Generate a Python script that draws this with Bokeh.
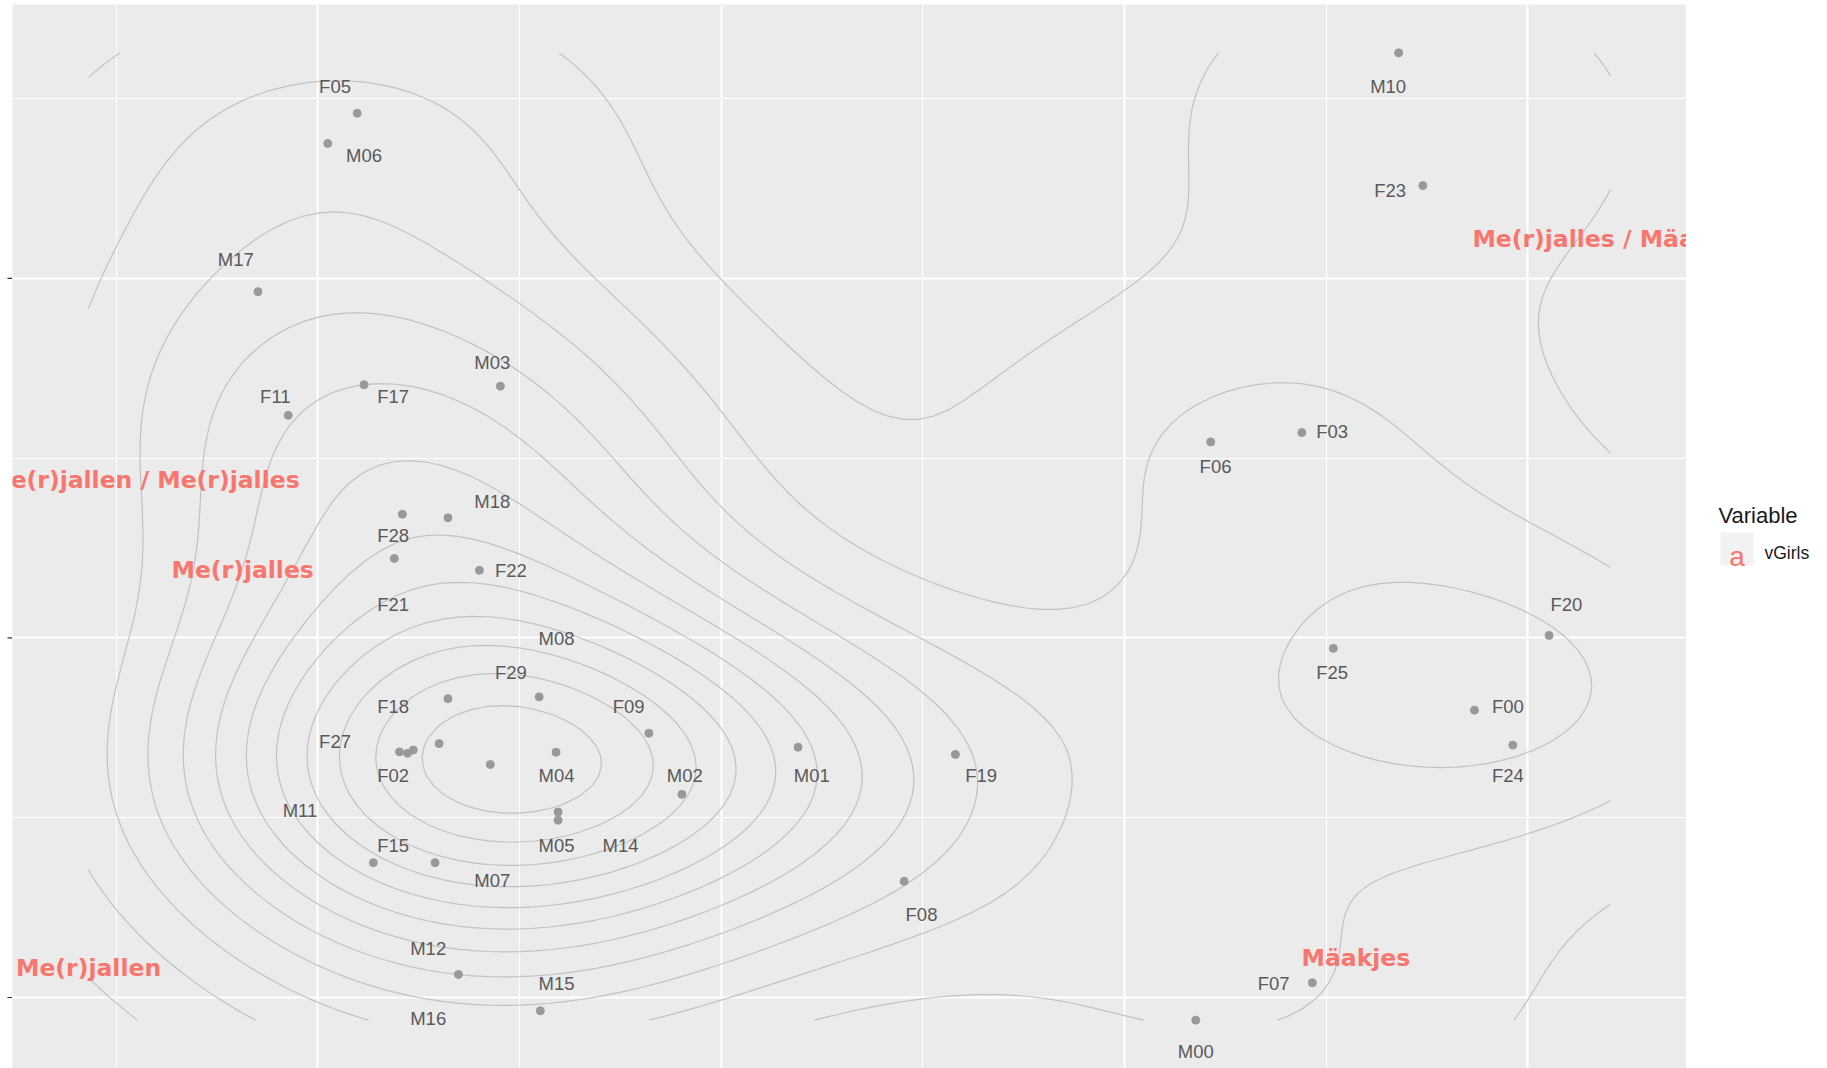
import numpy as np
import contourpy
from bokeh.plotting import figure
from bokeh.layouts import row
from bokeh.models import Range1d, FixedTicker, ColumnDataSource
from bokeh.core.properties import value
from bokeh.embed import file_html
from bokeh.resources import INLINE

# ---------------- data ----------------
speaker = ["F05", "M06", "M17", "F11", "F17", "M03", "F28", "M18", "F21", "F22",
           "F18", "F29", "F09", "M08", "F27", "F02", "M11", "M16", "M04", "M05",
           "M14", "M02", "M01", "F19", "F08", "F15", "M07", "M12", "M15", "M00",
           "F07", "F06", "F03", "F25", "F00", "F24", "F20", "F23", "M10"]
speaker_x = [-0.902, -0.975, -1.148, -1.073, -0.885, -0.547, -0.790, -0.677, -0.810, -0.599,
             -0.677, -0.451, -0.179, -0.699, -0.797, -0.777, -0.763, -0.572, -0.409, -0.404,
             -0.404, -0.097, 0.191, 0.581, 0.454, -0.862, -0.709, -0.651, -0.448, 1.177,
             1.466, 1.214, 1.440, 1.518, 1.868, 1.963, 2.053, 1.740, 1.680]
speaker_y = [1.459, 1.375, 0.963, 0.619, 0.704, 0.700, 0.344, 0.334, 0.221, 0.188,
             -0.169, -0.164, -0.265, -0.294, -0.317, -0.321, -0.312, -0.352, -0.318, -0.484,
             -0.507, -0.435, -0.304, -0.324, -0.677, -0.625, -0.625, -0.936, -1.037, -1.063,
             -0.959, 0.545, 0.571, -0.029, -0.201, -0.298, 0.007, 1.258, 1.627]
label_x = [-0.957, -0.885, -1.203, -1.105, -0.813, -0.567, -0.813, -0.567, -0.813, -0.521,
           -0.813, -0.521, -0.229, -0.408, -0.957, -0.813, -1.044, -0.726, -0.408, -0.408,
           -0.249, -0.090, 0.225, 0.645, 0.497, -0.813, -0.567, -0.726, -0.408, 1.177,
           1.370, 1.226, 1.515, 1.515, 1.951, 1.951, 2.096, 1.659, 1.654]
label_y = [1.533, 1.342, 1.051, 0.671, 0.671, 0.765, 0.286, 0.380, 0.094, 0.188,
           -0.191, -0.097, -0.191, -0.003, -0.288, -0.382, -0.479, -1.059, -0.382, -0.576,
           -0.576, -0.382, -0.382, -0.382, -0.768, -0.576, -0.674, -0.865, -0.962, -1.150,
           -0.962, 0.477, 0.574, -0.097, -0.191, -0.382, 0.094, 1.245, 1.533]

variant = ["Me(r)jallen", "Me(r)jallen / Me(r)jalles", "Me(r)jalles", "Mäakjes", "Me(r)jalles / Mäakjes"]
variant_x = [-1.568, -1.432, -1.186, 1.574, 2.205]
variant_y = [-0.917, 0.438, 0.188, -0.889, 1.110]

legend_title = "Variable"
legend_key = "a"
legend_label = "vGirls"

x_major = [-1, 0, 1, 2]
x_minor = [-1.5, -0.5, 0.5, 1.5]
y_major = [-1, 0, 1]
y_minor = [-0.5, 0.5, 1.5]

# ---------------- 2D density of the speakers (as MASS::kde2d over the scale range) ----------------
sx = np.array(speaker_x)
sy = np.array(speaker_y)
all_x = np.array(speaker_x + variant_x)
all_y = np.array(speaker_y + variant_y)


def bandwidth_nrd(v):
    q75, q25 = np.percentile(v, [75, 25])
    return 4 * 1.06 * min(np.std(v, ddof=1), (q75 - q25) / 1.34) * len(v) ** (-0.2)


def pretty_unit(lo, hi, n=10):
    cell = (hi - lo) / n
    base = 10 ** np.floor(np.log10(cell))
    unit = base
    h, h5 = 1.5, 0.5 + 1.5 * 1.5
    if 2 * base - cell < h * (cell - unit):
        unit = 2 * base
        if 5 * base - cell < h5 * (cell - unit):
            unit = 5 * base
            if 10 * base - cell < h * (cell - unit):
                unit = 10 * base
    return unit


ngrid = 100
hx = bandwidth_nrd(sx) / 4
hy = bandwidth_nrd(sy) / 4
gx = np.linspace(all_x.min(), all_x.max(), ngrid)
gy = np.linspace(all_y.min(), all_y.max(), ngrid)
ax = (gx[:, None] - sx[None, :]) / hx
ay = (gy[:, None] - sy[None, :]) / hy
phi_x = np.exp(-0.5 * ax ** 2) / np.sqrt(2 * np.pi)
phi_y = np.exp(-0.5 * ay ** 2) / np.sqrt(2 * np.pi)
Z = phi_y @ phi_x.T / (len(sx) * hx * hy)  # shape (ny, nx)

step = pretty_unit(Z.min(), Z.max(), 10) / 2
levels = [lv for lv in np.arange(step, Z.max(), step) if Z.min() < lv < Z.max()]
gen = contourpy.contour_generator(x=gx, y=gy, z=Z, line_type="Separate")
cxs, cys = [], []
for lv in levels:
    for seg in gen.lines(lv):
        cxs.append(seg[:, 0].tolist())
        cys.append(seg[:, 1].tolist())

# ---------------- main panel ----------------
xr = all_x.max() - all_x.min()
yr = all_y.max() - all_y.min()
H = 1068
TOP = 4
p = figure(width=1674, height=H, output_backend="svg", toolbar_location=None,
           x_range=Range1d(all_x.min() - 0.05 * xr, all_x.max() + 0.05 * xr),
           y_range=Range1d(all_y.min() - 0.05 * yr, all_y.max() + 0.05 * yr),
           min_border_left=0, min_border_right=0, min_border_top=TOP, min_border_bottom=0)
p.background_fill_color = "#EBEBEB"
p.border_fill_color = "white"
p.outline_line_color = None
p.xaxis.visible = False
p.yaxis.visible = False

p.xgrid.ticker = FixedTicker(ticks=x_major, minor_ticks=x_minor)
p.ygrid.ticker = FixedTicker(ticks=y_major, minor_ticks=y_minor)
for g in (p.xgrid, p.ygrid):
    g.grid_line_color = "white"
    g.grid_line_width = 2
    g.minor_grid_line_color = "white"
    g.minor_grid_line_width = 1

p.multi_line(xs=cxs, ys=cys, line_color="#C2C2C2", line_width=1.2)

src = ColumnDataSource(dict(x=speaker_x, y=speaker_y, lx=label_x, ly=label_y, name=speaker))
p.scatter(x="x", y="y", source=src, size=8, color="#999999")
p.text(x="lx", y="ly", text="name", source=src, text_font=value("Liberation Sans"),
       text_font_size="18.5px", text_color="#5a5a5a", text_align="center", text_baseline="middle")

vsrc = ColumnDataSource(dict(x=variant_x, y=variant_y, t=variant))
p.text(x="x", y="y", text="t", source=vsrc, text_font=value("DejaVu Sans"), text_font_style="bold",
       text_font_size="23.5px", text_color="#F8766D", text_align="center", text_baseline="middle")

# ---------------- left strip with the y tick marks ----------------
lt = figure(width=12, height=H, output_backend="svg", toolbar_location=None,
            x_range=Range1d(0, 12), y_range=p.y_range,
            min_border_left=0, min_border_right=0, min_border_top=TOP, min_border_bottom=0)
lt.axis.visible = False
lt.grid.visible = False
lt.outline_line_color = None
lt.background_fill_color = "white"
lt.segment(x0=[7] * len(y_major), x1=[12] * len(y_major), y0=y_major, y1=y_major,
           line_color="#333333", line_width=1.2)

# ---------------- legend strip (pixel layout, y downwards) ----------------
lg = figure(width=141, height=H, output_backend="svg", toolbar_location=None,
            x_range=Range1d(0, 141), y_range=Range1d(H, 0),
            min_border_left=0, min_border_right=0, min_border_top=0, min_border_bottom=0)
lg.axis.visible = False
lg.grid.visible = False
lg.outline_line_color = None
lg.background_fill_color = "white"
lg.text(x=[32], y=[513], text=[legend_title], text_font=value("Liberation Sans"),
        text_font_size="22px", text_color="#1a1a1a", text_baseline="alphabetic")
lg.quad(left=[34], right=[67], top=[530], bottom=[563], fill_color="#F2F2F2", line_color=None)
lg.text(x=[50.5], y=[554], text=[legend_key], text_font=value("Liberation Sans"),
        text_font_size="28px", text_color="#F8766D", text_align="center", text_baseline="alphabetic")
lg.text(x=[78], y=[551], text=[legend_label], text_font=value("Liberation Sans"),
        text_font_size="17.5px", text_color="#1a1a1a", text_baseline="alphabetic")

layout = row(lt, p, lg, spacing=0)
open("out.html", "w").write(file_html(layout, INLINE))
